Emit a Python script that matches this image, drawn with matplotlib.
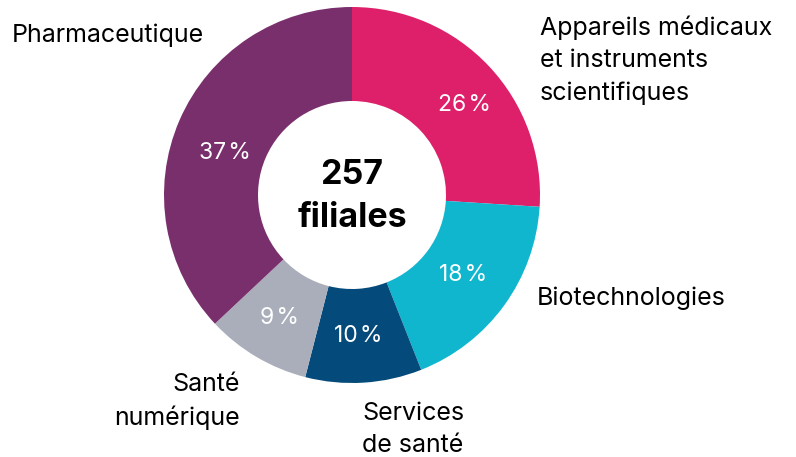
import matplotlib.pyplot as plt

plt.rcParams['font.family'] = ['Inter', 'DejaVu Sans']

# données
secteurs = ["Appareils médicaux\net instruments\nscientifiques", "Biotechnologies",
            "Services\nde santé", "Santé\nnumérique", "Pharmaceutique"]
parts = [26, 18, 10, 9, 37]
couleurs = ["#DE206B", "#10B6CE", "#044B7B", "#A9AEBA", "#7A2F6D"]
total = 257

fig = plt.figure(figsize=(7.96, 4.57), dpi=100)
ax = fig.add_axes([0, 0, 1, 1])

wedges, _, pcts = ax.pie(parts, colors=couleurs, startangle=90, counterclock=False,
                         center=(352, 262), radius=188,
                         wedgeprops=dict(width=94, linewidth=0),
                         autopct=lambda p: f"{p:.0f}\u200a%", pctdistance=0.75,
                         textprops=dict(color='white', fontsize=16.5))
ax.set_xlim(0, 796)
ax.set_ylim(0, 457)
ax.set_aspect('equal')
ax.axis('off')

# positions des pourcentages comme dans l'original
pct_pos = [(465, 352), (463, 182), (358, 121), (279, 139), (225, 304)]
for t, p in zip(pcts, pct_pos):
    t.set_position(p)

# texte central
ax.text(352, 282, str(total), ha='center', va='center',
        fontsize=24.5, fontweight='bold')
ax.text(352, 239, "filiales", ha='center', va='center',
        fontsize=24.5, fontweight='bold')

# étiquettes des secteurs
pos = [(540, 396.5, 'left'), (537, 159, 'left'), (362, 28, 'left'),
       (240, 55.5, 'right'), (12, 422, 'left')]
for nom, (x, y, ha) in zip(secteurs, pos):
    ax.text(x, y, nom, ha=ha, va='center', fontsize=18, linespacing=1.5)

fig.savefig("out.png", dpi=100)
